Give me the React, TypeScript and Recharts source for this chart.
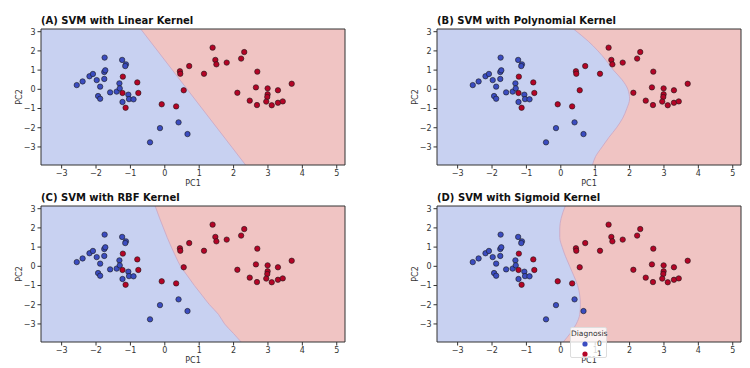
import { ComposedChart, Area, Scatter, XAxis, YAxis, CartesianGrid, ReferenceLine, Legend } from 'recharts';

// PCA scores, class 0 (benign) and class 1 (malignant)
const class0X = [-2.56, -2.39, -2.19, -2.09, -1.98, -1.88, -1.94, -1.88, -1.75, -1.76, -1.73, -1.76, -1.59, -1.4, -1.32, -1.31, -1.24, -1.13, -1.15, -1.23, -1.06, -1.04, -0.91, -0.14, 0.4, 0.66, -0.43];
const class0Y = [0.22, 0.41, 0.68, 0.8, 0.48, 0.14, -0.35, -0.49, 1.65, 0.9, 0.99, 0.54, -0.16, -0.12, 0.31, 0.05, 1.53, 1.3, 1.21, -0.66, -0.28, -0.51, -0.52, -2.02, -1.72, -2.33, -2.76];
const class1X = [-1.22, -0.8, -0.77, -1.23, -1.14, -0.09, 0.33, 0.55, 0.44, 0.45, 0.71, 1.14, 1.39, 1.47, 1.5, 1.8, 2.11, 2.22, 2.31, 2.69, 2.65, 2.99, 3.29, 3.69, 2.47, 2.68, 2.99, 2.98, 2.95, 3.11, 3.29, 3.43];
const class1Y = [0.66, 0.36, -0.19, -0.19, -0.96, -0.78, -0.89, -0.05, 0.94, 0.81, 1.21, 0.81, 2.17, 1.53, 1.3, 1.39, -0.18, 1.6, 1.94, 0.92, 0.1, 0.05, -0.05, 0.29, -0.59, -0.82, -0.26, -0.4, -0.64, -0.83, -0.7, -0.63];

// decision boundaries: PC1 position of the boundary at each PC2 level
const boundaryY = [3.14, 2.5, 2, 1.5, 1, 0.5, 0, -0.5, -1, -1.5, -2, -2.5, -3, -3.5, -3.94];
const polyX = [0.37, 0.8, 1.08, 1.32, 1.53, 1.78, 1.95, 2.0, 1.92, 1.8, 1.62, 1.4, 1.2, 1.01, 0.92];
const rbfX = [-0.28, -0.15, -0.04, 0.07, 0.19, 0.32, 0.46, 0.66, 0.86, 1.08, 1.3, 1.56, 1.74, 2.0, 2.22];
const sigmoidX = [0.13, 0.01, -0.03, -0.03, 0.04, 0.14, 0.26, 0.38, 0.49, 0.55, 0.57, 0.55, 0.45, 0.27, 0.07];
const linearY = [3.14, -3.94];
const linearX = [-0.7, 2.35];

const xTicks = [-3, -2, -1, 0, 1, 2, 3, 4, 5];
const yTicks = [-3, -2, -1, 0, 1, 2, 3];
const legendLabels = ['0', '1'];

const X_DOMAIN: [number, number] = [-3.6, 5.24];
const Y_DOMAIN: [number, number] = [-3.94, 3.14];

const BLUE_BG = '#c8d1f1';
const RED_BG = '#f0c4c3';
const BLUE = '#3b4cc0';
const RED = '#b40426';
const INK = '#333';

const pts0 = class0X.map((x, i) => ({ x, y: class0Y[i] }));
const pts1 = class1X.map((x, i) => ({ x, y: class1Y[i] }));
const toBoundary = (xs: number[], ys: number[]) => xs.map((x, i) => ({ x, y: ys[i] }));

const fmt = (v: number) => (v < 0 ? '\u2212' + Math.abs(v) : String(v));

const Dot = (props: any) => {
  const { cx, cy, fill } = props;
  if (cx == null || cy == null) return null;
  return <circle cx={cx} cy={cy} r={2.7} fill={fill} stroke="#1a1a1a" strokeWidth={0.6} />;
};

const LegendBox = () => (
  <div
    style={{
      width: 37,
      height: 31,
      boxSizing: 'border-box',
      background: 'rgba(255,255,255,0.8)',
      border: '1px solid #ddd',
      borderRadius: 2,
      fontSize: 7.5,
      color: INK,
      lineHeight: '10px',
      padding: '1px 0 0 0',
    }}
  >
    <div style={{ textAlign: 'center' }}>Diagnosis</div>
    {legendLabels.map((lab, i) => (
      <div key={lab} style={{ display: 'flex', alignItems: 'center', height: 10 }}>
        <svg width={26} height={10}>
          <circle cx={14} cy={5} r={2.6} fill={i === 0 ? BLUE : RED} />
        </svg>
        <span>{lab}</span>
      </div>
    ))}
  </div>
);

type PanelProps = {
  title: string;
  boundary: { x: number; y: number }[];
  left: number;
  top: number;
  legend?: boolean;
};

function Panel({ title, boundary, left, top, legend }: PanelProps) {
  return (
    <div style={{ position: 'absolute', left, top, width: 375, height: 188 }}>
      <div style={{ position: 'absolute', left: 41, top: 15, fontSize: 10, fontWeight: 'bold', lineHeight: '12px', color: '#111', whiteSpace: 'nowrap' }}>
        {title}
      </div>
      <ComposedChart layout="vertical" width={375} height={188} margin={{ top: 29, right: 30, bottom: 0, left: 0 }}>
        <CartesianGrid horizontal={false} vertical={false} fill={RED_BG} fillOpacity={1} />
        <XAxis
          type="number"
          dataKey="x"
          domain={X_DOMAIN}
          ticks={xTicks}
          allowDataOverflow
          height={23}
          tickSize={3.5}
          tickFormatter={fmt}
          tick={{ fontSize: 8, fill: INK }}
          tickLine={{ stroke: INK }}
          axisLine={{ stroke: INK }}
          label={{ value: 'PC1', position: 'insideBottom', offset: 2, fontSize: 8, fill: INK }}
        />
        <YAxis
          type="number"
          dataKey="y"
          domain={Y_DOMAIN}
          ticks={yTicks}
          reversed
          allowDataOverflow
          width={41}
          tickSize={3.5}
          tickFormatter={fmt}
          tick={{ fontSize: 8, fill: INK }}
          tickLine={{ stroke: INK }}
          axisLine={{ stroke: INK }}
          label={{
            content: (p: any) => {
              const vb = p.viewBox;
              const cx = vb.x + 19;
              const cy = vb.y + vb.height / 2;
              return (
                <text x={cx} y={cy} transform={`rotate(-90 ${cx} ${cy})`} textAnchor="middle" dominantBaseline="central" fontSize={8} fill={INK}>
                  PC2
                </text>
              );
            },
          }}
        />
        <Area
          data={boundary}
          dataKey="x"
          type="monotone"
          baseValue="dataMin"
          fill={BLUE_BG}
          fillOpacity={1}
          stroke="#c9a6c4"
          strokeWidth={0.8}
          legendType="none"
          isAnimationActive={false}
        />
        <Scatter name="0" data={pts0} fill={BLUE} shape={Dot} isAnimationActive={false} />
        <Scatter name="1" data={pts1} fill={RED} shape={Dot} isAnimationActive={false} />
        <ReferenceLine y={Y_DOMAIN[1]} stroke={INK} />
        <ReferenceLine x={X_DOMAIN[1]} stroke={INK} />
        {legend && (
          <Legend
            layout="vertical"
            align="center"
            verticalAlign="middle"
            content={() => <LegendBox />}
            wrapperStyle={{ left: 174, top: 150, width: 37 }}
          />
        )}
      </ComposedChart>
    </div>
  );
}

export default function App() {
  return (
    <div style={{ position: 'absolute', left: 0, top: 0, width: 750, height: 368, background: '#fff', fontFamily: '"DejaVu Sans", sans-serif' }}>
      <Panel title="(A) SVM with Linear Kernel" boundary={toBoundary(linearX, linearY)} left={0} top={0} />
      <Panel title="(B) SVM with Polynomial Kernel" boundary={toBoundary(polyX, boundaryY)} left={396} top={0} />
      <Panel title="(C) SVM with RBF Kernel" boundary={toBoundary(rbfX, boundaryY)} left={0} top={177} />
      <Panel title="(D) SVM with Sigmoid Kernel" boundary={toBoundary(sigmoidX, boundaryY)} left={396} top={177} legend />
    </div>
  );
}
